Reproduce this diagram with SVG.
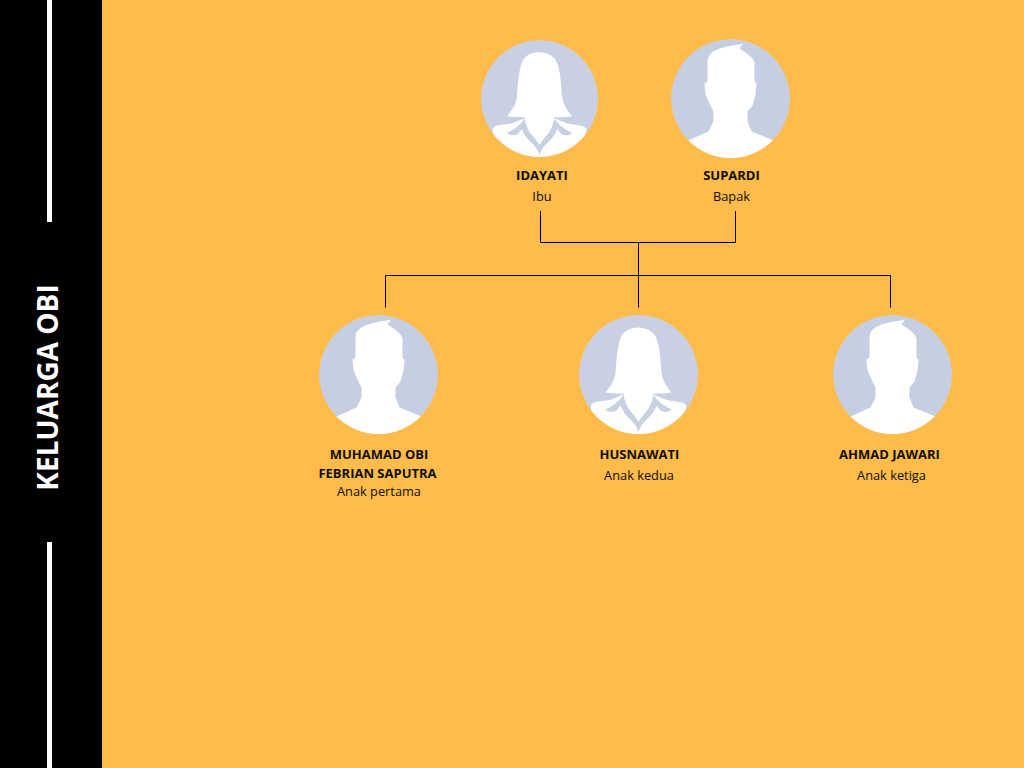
<svg xmlns="http://www.w3.org/2000/svg" width="1024" height="768" viewBox="0 0 1024 768">
<style>
text{font-family:"Open Sans","Liberation Sans",sans-serif;font-size:13px;fill:#0d0d0d;text-anchor:middle}
.n{font-weight:700}
.s{font-size:12.800px}
.c{fill:none;stroke:#000;stroke-width:1}
.w{fill:#fff}
</style>
<defs>
<clipPath id="cp"><circle r="59.500"/></clipPath>
<symbol id="female" overflow="visible">
<g clip-path="url(#cp)">
<circle r="59.500" fill="#c9d0e3"/>
<path class="w" d="M-1-47C-10-47-17-42-19-33C-22-22-22-12-23-2C-24 6-28 12-33 18C-28 19-22 19-15 19L-12 30L12 30L15 19C22 19 28 19 33 18C28 12 24 6 23-2C22-12 22-22 19-33C17-42 9-47-1-47Z"/>
<path class="w" d="M-44 40C-48 36-49 31-46 29C-42 26-34 27-27 25L-15 20L15 20L27 25C34 27 42 27 46 29C49 31 48 36 44 40L62 62L-62 62Z"/>
<path fill="#c9d0e3" d="M-15 20C-19 27-27 32-33 35C-30 38-26 38-22 36L-18 31C-16 37-12 42-7 46C-4 49-1 53 0 58C1 53 4 49 7 46C12 42 16 37 18 31L22 36C26 38 30 38 33 35C27 32 19 27 15 20C14 27 11 34 6 39L0 47L-6 39C-11 34-14 27-15 20Z"/>
</g>
</symbol>
<symbol id="male" overflow="visible">
<g clip-path="url(#cp)">
<circle r="59.500" fill="#c6cfe2"/>
<path class="w" d="M12-55C6-53-2-53-7-51C-15-49-22-46-23-38L-23-17L-26-15L-25-4L-20 7L-17 13L-17 23L-22 33L-42 42L-62 62L62 62L43 42L21 33L17 23L17 13L22 7L25-4L26-15L24-17L24-36C22-42 15-46 9-50C10-52 12-54 12-55Z"/>
</g>
</symbol>
</defs>
<rect id="background" width="1024" height="768" fill="#ffbc4a"/>
<g id="sidebar">
<rect width="102" height="768" fill="#000"/>
<rect x="47" width="5" height="222" fill="#fff"/>
<rect x="47" y="542" width="5" height="226" fill="#fff"/>
<text transform="translate(58 387.500) rotate(-90)" style="font-size:28px;font-weight:700;fill:#fff">KELUARGA OBI</text>
</g>
<g id="connectors">
<path class="c" d="M540.500 211V242.500H735.500V211M638.500 242.500V307.500M385.500 307.500V275.500H890.500V307.500"/>
</g>
<g id="idayati">
<use href="#female" transform="translate(539.500 98.500) scale(.983)"/>
<text class="n" x="542" y="180">IDAYATI</text>
<text class="s" x="542" y="201">Ibu</text>
</g>
<g id="supardi">
<use href="#male" x="730.500" y="98.500"/>
<text class="n" x="731.500" y="180">SUPARDI</text>
<text class="s" x="731.500" y="201">Bapak</text>
</g>
<g id="muhamad">
<use href="#male" x="378.500" y="374.500"/>
<text class="n" x="379" y="459">MUHAMAD OBI</text>
<text class="n" x="377.500" y="478">FEBRIAN SAPUTRA</text>
<text class="s" x="379" y="496">Anak pertama</text>
</g>
<g id="husnawati">
<use href="#female" x="638.500" y="374.500"/>
<text class="n" x="639.500" y="459">HUSNAWATI</text>
<text class="s" x="639" y="480">Anak kedua</text>
</g>
<g id="ahmad">
<use href="#male" x="892.500" y="374.500"/>
<text class="n" x="889.500" y="459">AHMAD JAWARI</text>
<text class="s" x="891.500" y="480">Anak ketiga</text>
</g>
</svg>
